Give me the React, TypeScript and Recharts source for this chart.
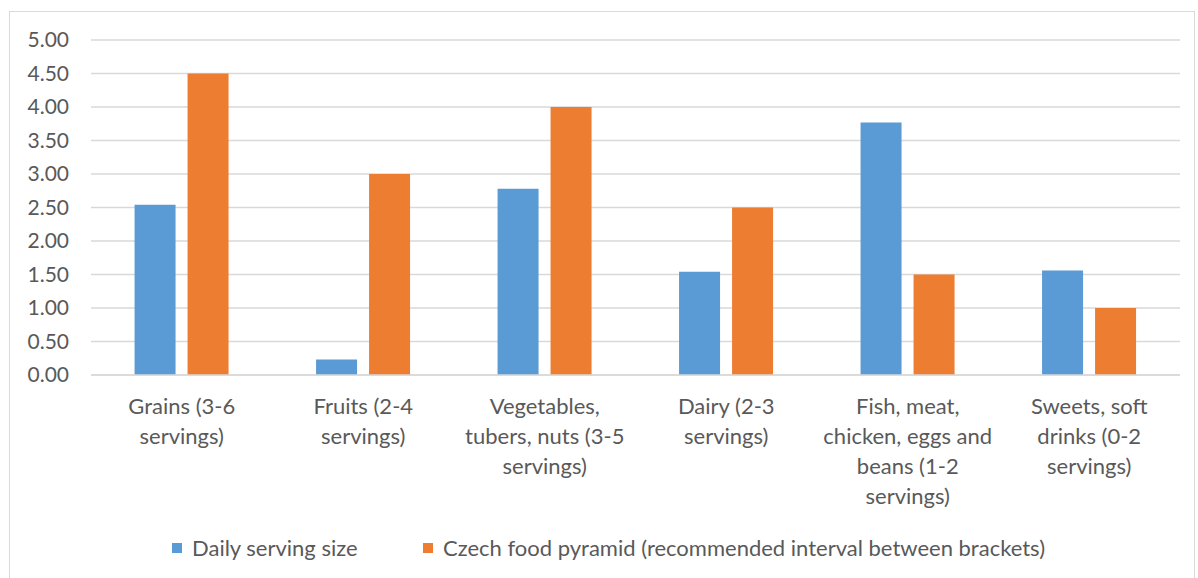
import React from 'react';
import { BarChart, Bar, XAxis, YAxis, CartesianGrid } from 'recharts';

const categories = [
  'Grains (3-6\nservings)',
  'Fruits (2-4\nservings)',
  'Vegetables,\ntubers, nuts (3-5\nservings)',
  'Dairy (2-3\nservings)',
  'Fish, meat,\nchicken, eggs and\nbeans (1-2\nservings)',
  'Sweets, soft\ndrinks (0-2\nservings)',
];
const dailyServing = [2.54, 0.23, 2.78, 1.54, 3.77, 1.56];
const czechPyramid = [4.5, 3.0, 4.0, 2.5, 1.5, 1.0];
const yTicks = [0, 0.5, 1, 1.5, 2, 2.5, 3, 3.5, 4, 4.5, 5];

const series = [
  { key: 'daily', name: 'Daily serving size', color: '#5B9BD5', legendX: 172 },
  { key: 'czech', name: 'Czech food pyramid (recommended interval between brackets)', color: '#ED7D31', legendX: 423 },
];

const data = categories.map((c, i) => ({ name: c, daily: dailyServing[i], czech: czechPyramid[i] }));

const FONT = 'Lato, "Open Sans", sans-serif';
const TEXT = '#595959';

// multi-line category label
const CategoryTick = ({ x, y, payload }: any) => {
  const lines = String(payload.value).split('\n');
  return (
    <text x={x} y={y} textAnchor="middle" fill={TEXT} fontSize={22} fontFamily={FONT}>
      {lines.map((l, i) => (
        <tspan key={i} x={x} dy={i === 0 ? 31 : 30}>{l}</tspan>
      ))}
    </text>
  );
};

export default function App() {
  return (
    <div style={{ position: 'absolute', left: 0, top: 0, width: 1198, height: 578, background: '#fff', fontFamily: FONT }}>
      {/* chart frame */}
      <div style={{ position: 'absolute', left: 9, top: 11, width: 1186, height: 570, border: '1px solid #d9d9d9', boxSizing: 'border-box' }} />

      <BarChart
        width={1198}
        height={578}
        data={data}
        margin={{ top: 40, right: 18, left: 0, bottom: 0 }}
        barGap={12}
        barCategoryGap="24%"
      >
        <CartesianGrid vertical={false} stroke="#d9d9d9" strokeWidth={1.5} />
        <XAxis
          dataKey="name"
          height={203}
          interval={0}
          axisLine={{ stroke: '#d9d9d9', strokeWidth: 1.5 }}
          tickLine={false}
          tick={<CategoryTick />}
        />
        <YAxis
          width={91}
          domain={[0, 5]}
          ticks={yTicks}
          tickFormatter={(v: number) => v.toFixed(2)}
          axisLine={false}
          tickLine={false}
          tickMargin={16}
          tick={{ fill: TEXT, fontSize: 21, fontFamily: FONT }}
        />
        {series.map(s => (
          <Bar key={s.key} dataKey={s.key} name={s.name} fill={s.color} isAnimationActive={false} />
        ))}
      </BarChart>

      {/* Legend */}
      {series.map(s => (
        <div key={s.key} style={{ position: 'absolute', left: s.legendX, top: 534, display: 'flex', alignItems: 'center', gap: 10 }}>
          <div style={{ width: 10, height: 10, background: s.color }} />
          <span style={{ fontSize: 22, color: TEXT, fontFamily: FONT }}>{s.name}</span>
        </div>
      ))}
    </div>
  );
}
